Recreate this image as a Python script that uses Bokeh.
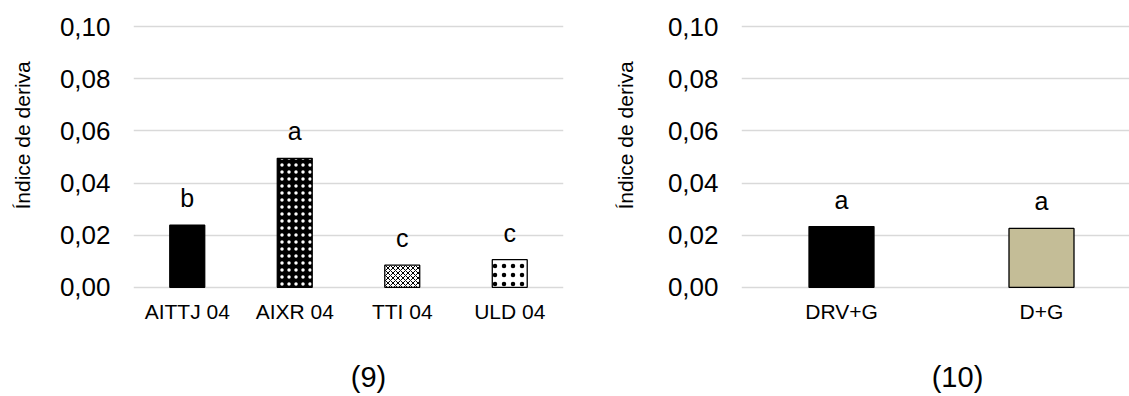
import math
from bokeh.plotting import figure
from bokeh.layouts import row, column
from bokeh.models import ColumnDataSource, FixedTicker, Range1d
from bokeh.core.properties import value
from bokeh.embed import file_html
from bokeh.resources import INLINE

# ---- data ----
cats_9 = ["AITTJ 04", "AIXR 04", "TTI 04", "ULD 04"]
vals_9 = [0.0238, 0.0495, 0.0085, 0.0106]
letters_9 = ["b", "a", "c", "c"]

cats_10 = ["DRV+G", "D+G"]
vals_10 = [0.0233, 0.0226]
letters_10 = ["a", "a"]

y_ticks = [0.00, 0.02, 0.04, 0.06, 0.08, 0.10]
y_tick_labels = ["0,00", "0,02", "0,04", "0,06", "0,08", "0,10"]
y_title = "Índice de deriva"
panel_titles = ["(9)", "(10)"]

# ---- styles / layout ----
FONT = "Liberation Sans"
TOP_H = 345
CAP_H = 51
styles_9 = dict(
    fill=["black", "black", "white", "white"],
    hatch=[" ", "dot", "diagonal_cross", "dot"],
    hatch_color=["black", "white", "black", "black"],
    hatch_scale=[6, 7, 5, 9],
    hatch_weight=[1, 0.8, 1, 0.6],
)
styles_10 = dict(
    fill=["black", "#C4BD97"],
    hatch=[" ", " "],
    hatch_color=["black", "black"],
    hatch_scale=[6, 6],
    hatch_weight=[1, 1],
)


def blank(width, height):
    f = figure(width=width, height=height,
               x_range=Range1d(0, width), y_range=Range1d(height, 0),
               x_axis_location=None, y_axis_location=None,
               output_backend="svg", toolbar_location=None,
               min_border=0, min_border_left=0, min_border_right=0,
               min_border_top=0, min_border_bottom=0)
    f.outline_line_color = None
    f.grid.visible = False
    f.background_fill_color = "white"
    f.border_fill_color = "white"
    return f


def ytitle_fig(width, baseline_x, center_y):
    f = blank(width, TOP_H)
    f.text(x=[baseline_x], y=[center_y], text=[y_title], angle=math.pi / 2,
           text_align="center", text_baseline="alphabetic",
           text_font=value(FONT), text_font_size="21px", text_color="black")
    return f


def make(cats, vals, letters, styles, frame_width, x_end,
         border_left, border_right):
    p = figure(
        frame_width=frame_width, frame_height=271,
        x_range=Range1d(-0.5, x_end), y_range=Range1d(-0.002, 0.102),
        output_backend="svg", toolbar_location=None,
        min_border_left=border_left, min_border_right=border_right,
        min_border_top=21, min_border_bottom=TOP_H - 21 - 271,
    )
    p.outline_line_color = None
    p.background_fill_color = "white"
    p.border_fill_color = "white"

    xs = list(range(len(cats)))
    src = ColumnDataSource(dict(x=xs, top=vals, letter=letters, **styles))
    p.vbar(x="x", top="top", bottom=0, width=0.325, source=src,
           fill_color="fill", line_color="black", line_width=1.3,
           hatch_pattern="hatch", hatch_color="hatch_color",
           hatch_scale="hatch_scale", hatch_weight="hatch_weight")
    p.text(x="x", y="top", text="letter", source=src, y_offset=-27,
           text_align="center", text_baseline="alphabetic",
           text_font=value(FONT), text_font_size="25px", text_color="black")

    # grid
    p.xgrid.visible = False
    p.ygrid.ticker = FixedTicker(ticks=y_ticks)
    p.ygrid.grid_line_color = "#d9d9d9"
    p.ygrid.grid_line_width = 1.6

    # y axis
    ya = p.yaxis[0]
    ya.ticker = FixedTicker(ticks=y_ticks)
    ya.major_label_overrides = {t: l for t, l in zip(y_ticks, y_tick_labels)}
    ya.axis_line_color = None
    ya.major_tick_line_color = None
    ya.minor_tick_line_color = None
    ya.major_tick_out = 0
    ya.major_tick_in = 0
    ya.major_label_standoff = 23
    ya.major_label_text_font = FONT
    ya.major_label_text_font_size = "26px"
    ya.major_label_text_color = "black"

    # x axis
    xa = p.xaxis[0]
    xa.ticker = FixedTicker(ticks=xs)
    xa.major_label_overrides = {i: c for i, c in zip(xs, cats)}
    xa.axis_line_color = None
    xa.major_tick_line_color = None
    xa.minor_tick_line_color = None
    xa.major_tick_out = 0
    xa.major_tick_in = 0
    xa.major_label_standoff = 7
    xa.major_label_text_font = FONT
    xa.major_label_text_font_size = "21px"
    xa.major_label_text_color = "black"
    return p


yt1 = ytitle_fig(40, 22, 145)
p1 = make(cats_9, vals_9, letters_9, styles_9, 430, 3.5, 93, 37)
yt2 = ytitle_fig(50, 25, 145)
p2 = make(cats_10, vals_10, letters_10, styles_10, 388, 1.44, 91, 0)

cap = blank(1129, CAP_H)
cap.text(x=[368, 957], y=[31, 31], text=panel_titles,
         text_align="center", text_baseline="alphabetic",
         text_font=value(FONT), text_font_size="29px", text_color="black")

layout = column(row(yt1, p1, yt2, p2), cap)
open("out.html", "w").write(file_html(layout, INLINE))
